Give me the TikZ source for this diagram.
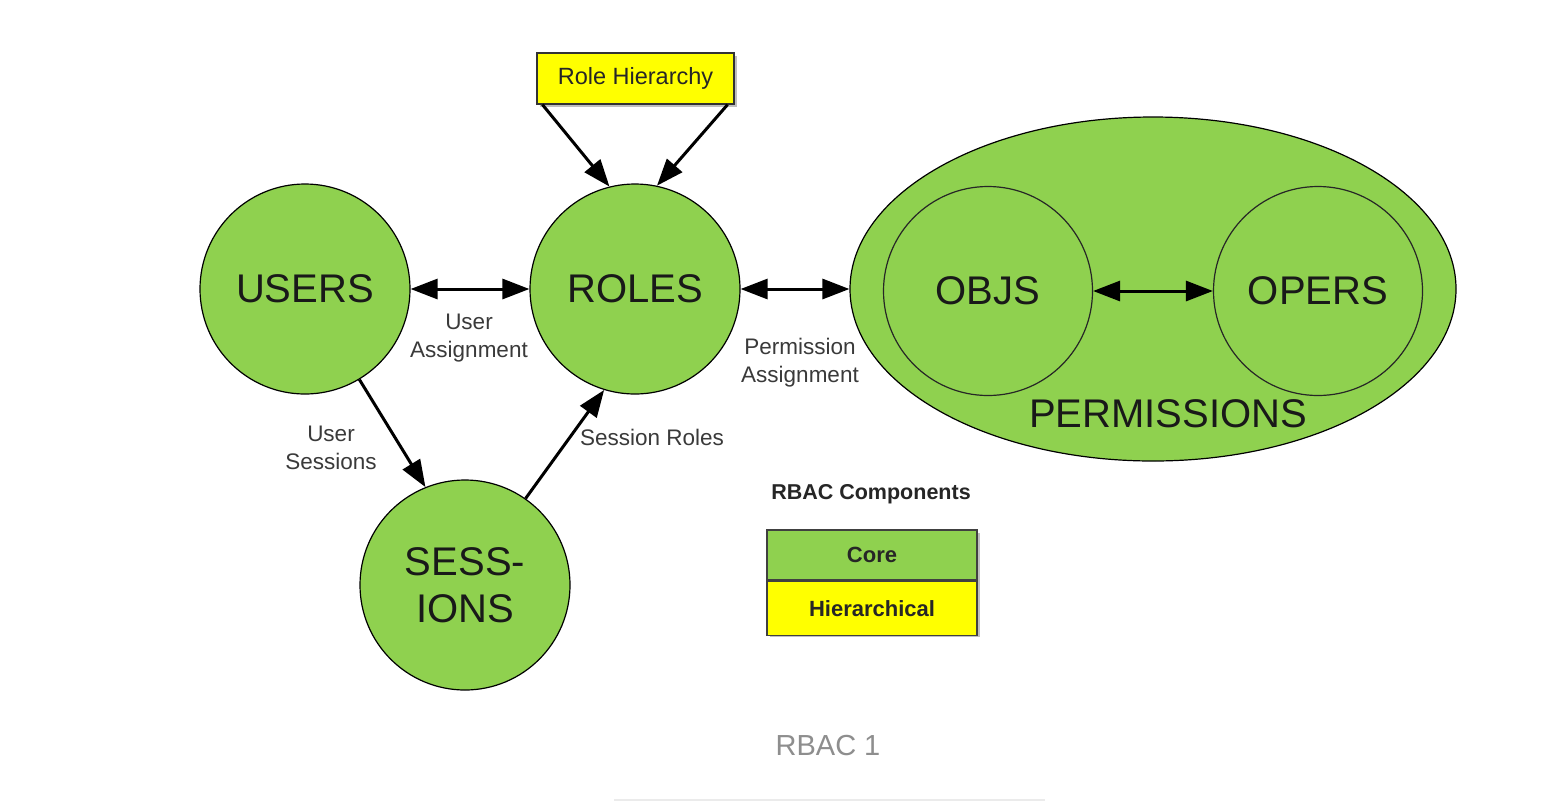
\documentclass[tikz,border=0pt]{standalone}
\usepackage{fontspec}
\setmainfont{Liberation Sans}
\usetikzlibrary{arrows.meta,shapes.geometric}
\definecolor{rgreen}{HTML}{8FD14F}
\definecolor{ryellow}{HTML}{FFFF00}
\definecolor{lbl}{HTML}{3A3A3A}
\definecolor{capg}{HTML}{8E8E8E}
\begin{document}
\begin{tikzpicture}[x=1pt,y=-1pt,
  bigc/.style={circle,draw=black,line width=1.2pt,fill=rgreen,minimum size=210pt,inner sep=0pt,
     font=\fontsize{40}{47}\selectfont,text=black!90,align=center},
  innc/.style={circle,draw=black!85,line width=1.2pt,minimum size=209pt,inner sep=0pt,
     font=\fontsize{40}{47}\selectfont,text=black!90},
  lab/.style={font=\fontsize{22.5}{28}\selectfont,text=lbl,align=center},
  arr/.style={line width=3pt,-{Triangle[length=27pt,width=20pt]}},
  dbl/.style={line width=3pt,{Triangle[length=27pt,width=20pt]}-{Triangle[length=27pt,width=20pt]}},
  legbox/.style={draw=black!75,line width=1.2pt,minimum width=210pt,inner sep=0pt,
     font=\bfseries\fontsize{22}{26}\selectfont,text=black!85}
]
\useasboundingbox[fill=white] (0,0) rectangle (1546,804);

% permissions ellipse
\node[ellipse,draw=black,line width=1.2pt,fill=rgreen,minimum width=606pt,minimum height=344pt,inner sep=0pt] (perm) at (1153,289) {};
\node[font=\fontsize{40}{47}\selectfont,text=black!90] (permlab) at (1168,414) {PERMISSIONS};
\node[innc] (objs) at (988,291) {OBJS};
\node[innc] (opers) at (1318,291) {OPERS};

% main circles
\node[bigc] (users) at (305,289) {USERS};
\node[bigc] (roles) at (635,289) {ROLES};
\node[bigc] (sess) at (465,585) {SESS-\\IONS};

% role hierarchy
\fill[black!25] (540,56) rectangle (737,107);
\node[draw=black!80,line width=1.2pt,fill=ryellow,minimum width=197pt,minimum height=51pt,inner sep=0pt,
  font=\fontsize{23.5}{26}\selectfont,text=black!85] (rh) at (635.5,78.5) {Role Hierarchy};

% connectors
\draw[dbl] (users) -- (roles);
\draw[dbl] (roles) -- (perm.west);
\draw[dbl] (objs) -- (opers);
\draw[arr] ([xshift=6pt]rh.south west) -- (roles.104);
\draw[arr] ([xshift=-7pt]rh.south east) -- (roles.78);
\draw[arr] (users.-59) -- (sess.112);
\draw[arr] (sess.55) -- (roles.-107);

% labels
\node[lab] (ua) at (469,338) {User\\Assignment};
\node[lab] (pa) at (800,363) {Permission\\Assignment};
\node[lab] (us) at (331,448) {User\\Sessions};
\node[lab] (sr) at (652,437) {Session Roles};

% legend
\node[font=\bfseries\fontsize{21.5}{26}\selectfont,text=black!85] (legt) at (871,494) {RBAC Components};
\fill[black!25] (770,533) rectangle (980,637);
\node[legbox,fill=rgreen,minimum height=50pt] (core) at (872,555) {Core};
\node[legbox,fill=ryellow,minimum height=54pt,anchor=north] (hier) at (core.south) {Hierarchical};

% caption
\node[font=\fontsize{29}{34}\selectfont,text=capg] (cap) at (828,746) {RBAC 1};
\draw[black!8,line width=2pt] (614,800) -- (1045,800);
\end{tikzpicture}
\end{document}
